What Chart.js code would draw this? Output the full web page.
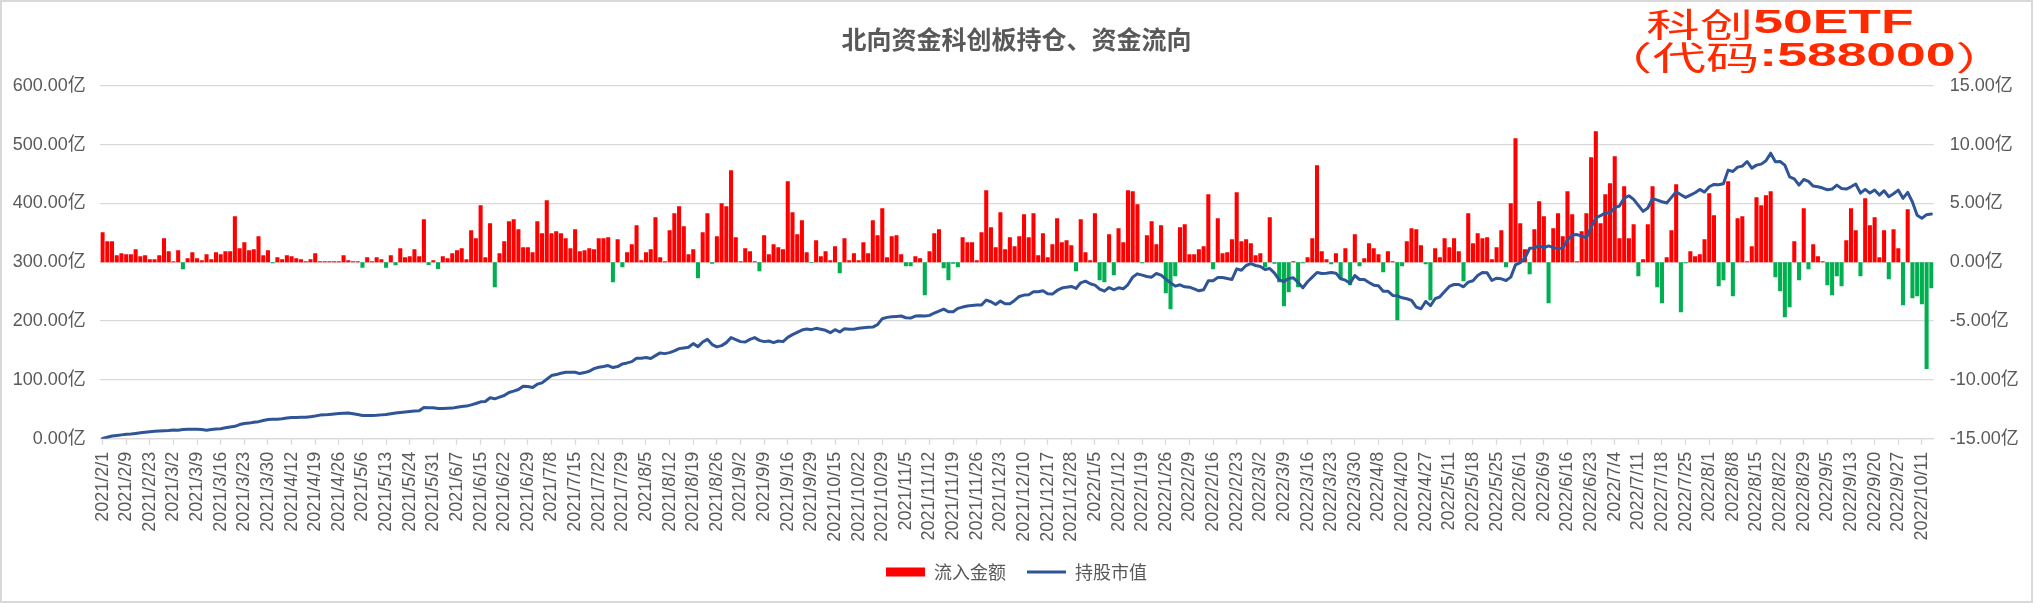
<!DOCTYPE html>
<html>
<head>
<meta charset="utf-8">
<script src="https://cdn.jsdelivr.net/npm/chart.js@4.4.1/dist/chart.umd.min.js"></script>
<style>
  html, body { margin: 0; padding: 0; background: #fff; }
  #wrap { width: 2033px; height: 603px; }
</style>
</head>
<body>
<div id="wrap"><canvas id="chart-flow" width="2033" height="603"></canvas></div>
<script>
// ── DATA ──────────────────────────────────────────────────────────────────
const TITLE = '北向资金科创板持仓、资金流向';
const NOTE_1 = [['科创', false], ['50ETF', true]];
const NOTE_2 = [['（代码', false], [':588000', true], ['）', false]];
const SERIES = ['流入金额', '持股市值'];

// one label every 5 trading days
const TICK_LABELS = [
  '2021/2/1','2021/2/9','2021/2/23','2021/3/2','2021/3/9','2021/3/16','2021/3/23','2021/3/30',
  '2021/4/12','2021/4/19','2021/4/26','2021/5/6','2021/5/13','2021/5/24','2021/5/31','2021/6/7',
  '2021/6/15','2021/6/22','2021/6/29','2021/7/8','2021/7/15','2021/7/22','2021/7/29','2021/8/5',
  '2021/8/12','2021/8/19','2021/8/26','2021/9/2','2021/9/9','2021/9/16','2021/9/29','2021/10/15',
  '2021/10/22','2021/10/29','2021/11/5','2021/11/12','2021/11/19','2021/11/26','2021/12/3','2021/12/10',
  '2021/12/17','2021/12/28','2022/1/5','2022/1/12','2022/1/19','2022/1/26','2022/2/9','2022/2/16',
  '2022/2/23','2022/3/2','2022/3/9','2022/3/16','2022/3/23','2022/3/30','2022/4/8','2022/4/20',
  '2022/4/27','2022/5/11','2022/5/18','2022/5/25','2022/6/1','2022/6/9','2022/6/16','2022/6/23',
  '2022/7/4','2022/7/11','2022/7/18','2022/7/25','2022/8/1','2022/8/8','2022/8/15','2022/8/22',
  '2022/8/29','2022/9/5','2022/9/13','2022/9/20','2022/9/27','2022/10/11'
];

// daily net inflow, 亿 (right axis)
const FLOW = [
  2.54, 1.78, 1.78, 0.59, 0.76, 0.68, 0.68, 1.10, 0.51, 0.59,
  0.25, 0.25, 0.59, 2.03, 0.93, 0.08, 1.02, -0.59, 0.34, 0.85,
  0.34, 0.17, 0.68, 0.25, 0.85, 0.68, 0.93, 0.93, 3.90, 1.19,
  1.69, 1.02, 1.10, 2.20, 0.59, 1.02, -0.08, 0.42, 0.25, 0.59,
  0.51, 0.34, 0.25, 0.08, 0.25, 0.76, 0.08, 0.08, 0.08, 0.08,
  0.08, 0.60, 0.17, 0.08, 0.08, -0.48, 0.42, 0.08, 0.42, 0.25,
  -0.48, 0.60, -0.25, 1.19, 0.42, 0.51, 1.10, 0.51, 3.65, -0.23,
  0.17, -0.57, 0.51, 0.34, 0.76, 1.02, 1.19, 0.25, 2.72, 2.04,
  4.84, 0.42, 3.31, -2.12, 0.76, 1.78, 3.48, 3.65, 2.80, 1.27,
  1.27, 0.85, 3.48, 2.46, 5.27, 2.46, 2.63, 2.46, 2.04, 1.19,
  2.80, 0.93, 1.02, 1.19, 1.10, 2.04, 2.04, 2.12, -1.70, 1.95,
  -0.42, 0.85, 1.53, 3.14, 0.17, 0.85, 1.10, 3.82, 0.42, 0.08,
  2.72, 4.16, 4.76, 3.06, 0.68, 1.10, -1.36, 2.55, 4.16, -0.14,
  2.20, 5.01, 4.76, 7.82, 2.12, 0.08, 1.19, 0.93, 0.08, -0.76,
  2.29, 0.68, 1.53, 1.27, 1.10, 6.88, 4.25, 2.38, 3.57, 0.85,
  -0.06, 1.87, 0.51, 0.93, 0.17, 1.36, -0.93, 2.04, 0.17, 0.76,
  0.17, 1.70, 0.76, 3.57, 2.29, 4.59, 0.42, 2.20, 2.29, 0.68,
  -0.34, -0.34, 0.51, 0.34, -2.80, 0.93, 2.46, 2.80, -0.51, -1.53,
  -0.14, -0.42, 2.12, 1.70, 1.70, 0.17, 2.55, 6.12, 2.97, 1.27,
  4.25, 1.10, 2.12, 1.36, 2.20, 4.08, 2.12, 4.16, 0.60, 2.46,
  0.42, 1.53, 3.74, 1.70, 1.87, 1.44, -0.76, 3.65, 0.85, 0.17,
  4.16, -1.53, -1.70, 2.38, -1.10, 2.89, 1.70, 6.12, 6.03, 4.93,
  -0.08, 2.29, 3.48, 1.53, 3.14, -2.63, -3.99, -1.19, 2.97, 3.23,
  0.68, 0.68, 1.10, 1.36, 5.78, -0.59, 3.74, 0.76, 0.85, 1.95,
  5.95, 1.78, 1.95, 1.61, 0.60, 0.76, -0.42, 3.82, -0.14, -1.70,
  -3.74, -2.55, 0.08, -2.12, -0.08, 0.42, 2.04, 8.24, 0.93, 0.25,
  -0.17, 0.76, -1.44, 1.19, -1.95, 2.38, -0.34, 0.34, 1.61, 1.19,
  0.68, -0.85, 0.93, 0.08, -4.93, -0.34, 1.78, 2.89, 2.80, 1.44,
  -0.17, -3.23, 1.19, 0.42, 2.04, 1.27, 2.04, 0.93, -1.61, 4.16,
  1.61, 2.46, 2.04, 2.12, 0.25, 1.27, 2.72, -0.42, 5.01, 10.54,
  3.31, 1.10, -1.02, 2.80, 5.18, 3.90, -3.48, 2.89, 4.16, 2.20,
  6.03, 4.08, 0.08, 2.63, 4.16, 8.92, 11.13, 3.31, 5.78, 6.71,
  9.00, 2.04, 6.46, 2.04, 3.23, -1.19, 0.25, 3.23, 6.46, -2.12,
  -3.48, 0.42, 2.72, 6.63, -4.25, -0.08, 0.93, 0.51, 0.68, 1.95,
  5.86, 3.99, -2.04, -1.53, 6.88, -2.89, 3.74, 3.90, 0.08, 1.36,
  5.52, 4.84, 5.69, 6.03, -1.27, -2.46, -4.67, -3.82, 1.78, -1.53,
  4.59, -0.59, 1.53, 0.51, 0.08, -1.95, -2.80, -1.19, -2.04, 1.87,
  4.59, 2.72, -1.19, 5.44, 3.14, 3.82, 0.42, 2.72, -1.44, 2.80,
  1.19, -3.65, 4.50, -3.06, -2.89, -3.57, -9.07, -2.21
];

// holding market value, 亿 (left axis)
const HOLD = [
  0.5, 2.5, 4.5, 5.5, 6.5, 7.4, 8, 9, 10, 11,
  12, 12.5, 13, 13.5, 14, 14.9, 14.5, 15.5, 16, 16,
  16, 15.5, 14.3, 15.5, 16.5, 17, 18.5, 20, 21, 24,
  25.7, 26.5, 28, 29, 31, 32.6, 33, 33.2, 34, 35,
  36, 36.2, 36.3, 36.5, 37.5, 38.5, 40.1, 40.5, 41.2, 42,
  42.9, 43.2, 43.5, 42.4, 41, 39.5, 39.5, 39.5, 39.8, 40.5,
  41.2, 42.5, 43.5, 44.6, 45.5, 46.3, 47, 47.5, 53.1, 52.5,
  52.5, 51.4, 51.4, 51.8, 52, 53.5, 54.8, 55.4, 57.5, 59.9,
  62.7, 63.3, 69.5, 67.8, 70.6, 73.4, 78.5, 80.8, 83.6, 89.3,
  88.7, 87, 92.7, 94.9, 101, 107.3, 109, 111.3, 113, 113,
  113, 110.7, 112.4, 114.7, 119.2, 121.5, 122.6, 124.3, 120.9, 122.6,
  127.1, 128.8, 131, 136.7, 136.7, 137.9, 136.2, 141.2, 145.8, 144.6,
  146.3, 149.2, 153.1, 154.2, 155.4, 161.6, 156.5, 164.4, 168.9, 160,
  156, 158.2, 163.3, 171.8, 168.4, 165, 164.4, 168.9, 171.8, 167.2,
  165, 166.1, 163.3, 166.1, 165, 172.3, 176.8, 180.8, 184.7, 186.4,
  185.3, 187.6, 185.9, 184.2, 180.2, 185.3, 181.4, 187, 185.9, 185.9,
  187.6, 188.7, 189.3, 189.8, 193.8, 204, 206.2, 207.3, 207.9, 208.5,
  205.6, 205.1, 208.5, 209, 208.5, 209.6, 213.6, 217, 220.3, 215.8,
  215.8, 221.5, 223.7, 225.4, 226.6, 227.1, 227.1, 235.6, 232.8, 228.2,
  233.9, 229.4, 229.4, 235, 241.8, 244.1, 244.6, 249.7, 249.7, 251.4,
  246.3, 245.8, 252, 256, 257.6, 258.8, 255.4, 265, 267.8, 263.3,
  261, 254.2, 250.8, 257, 253, 256.5, 254.8, 262, 274.6, 280.2,
  278, 275.7, 274.6, 280.8, 278, 271.2, 265, 259.3, 261.6, 258.2,
  257.6, 254.8, 251.4, 253.1, 268.4, 268.4, 274, 274, 272.3, 270.6,
  288.7, 286.4, 294.4, 297.7, 294.4, 292.7, 287.6, 289.3, 281.4, 270,
  267.2, 272.3, 273.4, 265.5, 256.5, 266.7, 274.6, 282.5, 280.8, 281.4,
  282.5, 281.4, 271.8, 269.5, 264.4, 277.4, 270.6, 270.6, 265.5, 261,
  259.9, 250.8, 250.8, 243.5, 242.9, 239.5, 237.9, 235, 223.7, 220.9,
  233.3, 226, 237.9, 241.2, 250.3, 258.8, 262.1, 262.1, 258.2, 266.1,
  268.4, 277.4, 282.5, 281.9, 268.9, 272.9, 271.8, 268.9, 274.6, 295.5,
  299.4, 306.8, 323.7, 324.3, 328.2, 324.3, 327.7, 324.9, 322.6, 324.3,
  337.9, 346.3, 346.9, 344.6, 341.2, 359.3, 375.1, 379.1, 384.2, 383.6,
  392.7, 395.5, 409, 413, 406.8, 396.6, 386.4, 392.1, 408.5, 405.6,
  402.8, 400.6, 410.2, 419.8, 414.7, 410.2, 414.1, 418.1, 423.7, 419.2,
  428.2, 432.2, 431.6, 433.3, 456.5, 454.2, 461.6, 463.3, 471.2, 459.9,
  465, 466.7, 472.3, 485.3, 470.6, 471.2, 465, 445.2, 441.8, 431,
  440.7, 437.3, 429.4, 428.2, 426, 423.2, 424.3, 431, 425.4, 424.3,
  428.2, 432.8, 417.5, 423.7, 417.5, 422.6, 414.1, 421.5, 411.3, 416.4,
  422.6, 408.5, 418.6, 402.3, 379.7, 374.6, 380.8, 381.9
];

// ── CHART DEFAULTS ────────────────────────────────────────────────────────
Chart.defaults.font.family = "'Liberation Sans', 'Noto Sans CJK SC', sans-serif";
Chart.defaults.font.size   = 18;
Chart.defaults.color       = '#595959';

const RED   = '#FF0000';
const GREEN = '#00B050';
const BLUE  = '#2F5597';
const GRID  = '#D9D9D9';
const NOTE_RED = '#FF2A00';

const labels = FLOW.map((_, i) => (i % 5 === 0 ? TICK_LABELS[i / 5] : ''));
const yi = v => v.toFixed(2) + '亿';

// white card with a thin grey frame, like the spreadsheet chart area
const frame = {
  id: 'frame',
  beforeDraw(chart) {
    const { ctx, width, height } = chart;
    ctx.save();
    ctx.fillStyle = '#fff';
    ctx.fillRect(0, 0, width, height);
    ctx.strokeStyle = GRID;
    ctx.lineWidth = 2;
    ctx.strokeRect(1, 1, width - 2, height - 2);
    ctx.restore();
  }
};

// red fund note in the top right corner (mixed weights, stretched wide)
function drawNote(ctx, parts, cx, cy, size, sx) {
  const fontOf = b => b ? `bold ${size}px 'Liberation Sans', sans-serif`
                        : `${size}px 'Noto Sans CJK SC', sans-serif`;
  let total = 0;
  parts.forEach(([t, b]) => { ctx.font = fontOf(b); total += ctx.measureText(t).width; });
  ctx.save();
  ctx.translate(cx, cy);
  ctx.scale(sx, 1);
  ctx.fillStyle = NOTE_RED;
  ctx.textBaseline = 'middle';
  ctx.textAlign = 'left';
  let x = -total / 2;
  parts.forEach(([t, b]) => {
    ctx.font = fontOf(b);
    ctx.fillText(t, x, 0);
    x += ctx.measureText(t).width;
  });
  ctx.restore();
}

const fundNote = {
  id: 'fundNote',
  afterDraw(chart) {
    drawNote(chart.ctx, NOTE_1, 1780, 24, 33, 1.62);
    drawNote(chart.ctx, NOTE_2, 1804, 57, 33, 1.62);
  }
};

// ── FLOW / HOLDING COMBO CHART ────────────────────────────────────────────
new Chart(document.getElementById('chart-flow'), {
  data: {
    labels,
    datasets: [
      {
        type: 'bar',
        label: SERIES[0],
        data: FLOW,
        yAxisID: 'y1',
        order: 1,
        backgroundColor: FLOW.map(v => v >= 0 ? RED : GREEN),
        borderWidth: 0,
        barPercentage: 0.86,
        categoryPercentage: 1,
      },
      {
        type: 'line',
        label: SERIES[1],
        data: HOLD,
        yAxisID: 'y',
        order: 0,
        borderColor: BLUE,
        borderWidth: 3,
        borderJoinStyle: 'round',
        borderCapStyle: 'round',
        pointRadius: 0,
        tension: 0,
      }
    ]
  },
  options: {
    responsive: false,
    devicePixelRatio: 1,
    animation: false,
    layout: { padding: { left: 0, right: 0, top: 0, bottom: 12 } },
    plugins: {
      tooltip: { enabled: false },
      title: {
        display: true,
        text: TITLE,
        color: '#595959',
        font: { family: "'Noto Sans CJK SC', sans-serif", size: 25, weight: 'bold', lineHeight: 1.2 },
        padding: { top: 24, bottom: 31.7 },
      },
      legend: {
        display: true,
        position: 'bottom',
        labels: {
          usePointStyle: true,
          pointStyleWidth: 39,
          boxHeight: 9,
          padding: 21,
          color: '#595959',
          font: { family: "'Noto Sans CJK SC', sans-serif", size: 18 },
          generateLabels: () => [
            { text: SERIES[0], fillStyle: RED, strokeStyle: RED, lineWidth: 0,
              pointStyle: 'rect', datasetIndex: 0, hidden: false, fontColor: '#595959' },
            { text: SERIES[1], fillStyle: BLUE, strokeStyle: BLUE, lineWidth: 3,
              pointStyle: 'line', datasetIndex: 1, hidden: false, fontColor: '#595959' },
          ]
        }
      }
    },
    scales: {
      x: {
        offset: true,
        grid: {
          offset: false,
          drawOnChartArea: false,
          drawTicks: true,
          tickLength: 6,
          tickWidth: 1.3,
          tickColor: c => (c.index % 5 === 0 ? GRID : 'rgba(0,0,0,0)'),
        },
        border: { display: true, color: GRID, width: 1.3 },
        ticks: {
          autoSkip: false,
          minRotation: 90,
          maxRotation: 90,
          padding: 7,
          color: '#595959',
        },
        afterFit: s => { s.height = 103.3; },
      },
      y: {
        position: 'left',
        min: 0, max: 600,
        ticks: { stepSize: 100, padding: 14.5, callback: v => yi(v) },
        grid: { color: GRID, lineWidth: 1.3, drawTicks: false },
        border: { display: false },
        afterFit: s => { s.width = 100.2; },
      },
      y1: {
        position: 'right',
        min: -15, max: 15,
        ticks: { stepSize: 5, padding: 16, callback: v => yi(v) },
        grid: { display: false, drawTicks: false },
        border: { display: false },
        afterFit: s => { s.width = 99.3; },
      }
    }
  },
  plugins: [frame, fundNote]
});
</script>
</body>
</html>
